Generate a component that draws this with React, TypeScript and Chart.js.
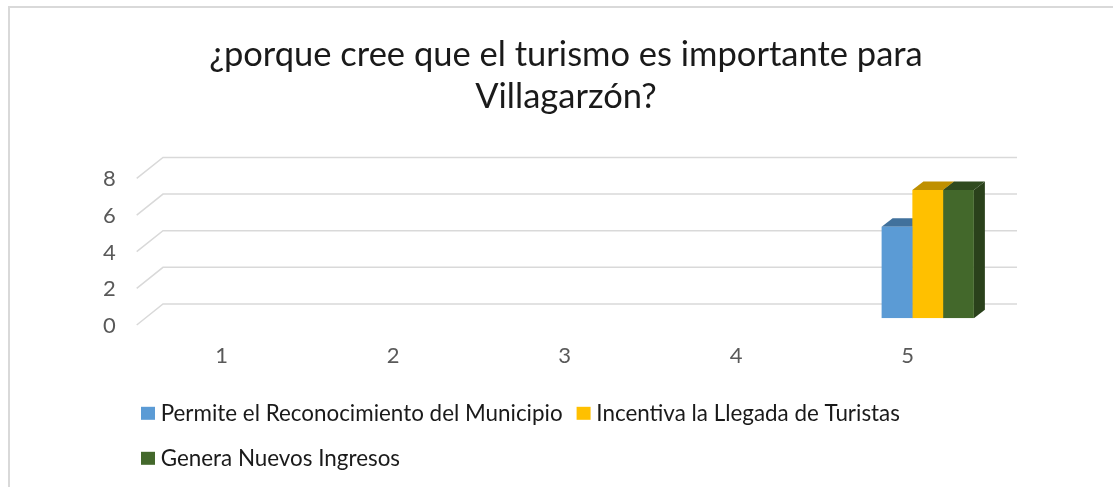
import React, { useEffect, useRef } from "react";
import { Chart, registerables } from "chart.js";

Chart.register(...registerables);

const TITLE_LINES = ["¿porque cree que el turismo es importante para", "Villagarzón?"];
const CATEGORIES = ["1", "2", "3", "4", "5"];
const SERIES_NAMES = [
  "Permite el Reconocimiento del Municipio",
  "Incentiva la Llegada de Turistas",
  "Genera Nuevos Ingresos",
];
const PERMITE: (number | null)[] = [null, null, null, null, 5];
const INCENTIVA: (number | null)[] = [null, null, null, null, 7];
const GENERA: (number | null)[] = [null, null, null, null, 7];
const Y_TICKS = [0, 2, 4, 6, 8];

const FRONT = ["#5B9BD5", "#FFC000", "#43682B"];
const TOP = ["#41719C", "#BF9000", "#2F4A1F"];
const SIDE = ["#3B6690", "#B38600", "#2A411B"];

const FONT = "Lato";

const threeD = {
  id: "threeD",
  beforeDatasetsDraw(chart: any) {
    const { ctx, chartArea: ca, scales } = chart;
    const ys = scales.y;
    ctx.save();
    ctx.strokeStyle = "#d9d9d9";
    ctx.lineWidth = 1.5;
    for (const t of Y_TICKS) {
      const py = ys.getPixelForValue(t);
      ctx.beginPath();
      ctx.moveTo(ca.left - 19.3, py + 6.7);
      ctx.lineTo(ca.left + 7, py - 14.3);
      ctx.lineTo(ca.right + 3.5, py - 14.3);
      ctx.stroke();
    }
    const DX = 11;
    const DY = -8.5;
    chart.data.datasets.forEach((_ds: any, i: number) => {
      const meta = chart.getDatasetMeta(i);
      meta.data.forEach((el: any) => {
        const { x, y: top, base, width } = el.getProps(["x", "y", "base", "width"], true);
        if (!isFinite(top) || !isFinite(base) || top === base) return;
        const l = x - width / 2;
        const r = x + width / 2;
        ctx.fillStyle = SIDE[i];
        ctx.beginPath();
        ctx.moveTo(r, top);
        ctx.lineTo(r + DX, top + DY);
        ctx.lineTo(r + DX, base + DY);
        ctx.lineTo(r, base);
        ctx.closePath();
        ctx.fill();
        ctx.fillStyle = TOP[i];
        ctx.beginPath();
        ctx.moveTo(l, top);
        ctx.lineTo(l + DX, top + DY);
        ctx.lineTo(r + DX, top + DY);
        ctx.lineTo(r, top);
        ctx.closePath();
        ctx.fill();
      });
    });
    ctx.restore();
  },
};

// Excel-style legend: small square, tight text gap, rows wrapped at the plot width
const excelLegend = {
  id: "excelLegend",
  afterDraw(chart: any) {
    const { ctx, chartArea: ca } = chart;
    const startX = 131;
    const maxRight = ca.right;
    const firstRowY = ca.bottom + 95;
    const rowGap = 45;
    const boxW = 14;
    const boxH = 13;
    const textGap = 5.7;
    const itemGap = 14;
    ctx.save();
    ctx.font = `22.4px ${FONT}`;
    ctx.textBaseline = "middle";
    ctx.textAlign = "left";
    let x = startX;
    let y = firstRowY;
    chart.data.datasets.forEach((ds: any) => {
      const w = ctx.measureText(ds.label).width;
      if (x > startX && x + boxW + textGap + w > maxRight) {
        x = startX;
        y += rowGap;
      }
      ctx.fillStyle = ds.backgroundColor;
      ctx.fillRect(x, y - boxH / 2, boxW, boxH);
      ctx.fillStyle = "#1a1a1a";
      ctx.fillText(ds.label, x + boxW + textGap, y);
      x += boxW + textGap + w + itemGap;
    });
    ctx.restore();
  },
};

export default function App() {
  const ref = useRef<HTMLCanvasElement | null>(null);
  useEffect(() => {
    if (!ref.current) return;
    const series = [PERMITE, INCENTIVA, GENERA];
    const chart = new Chart(ref.current, {
      type: "bar",
      data: {
        labels: CATEGORIES,
        datasets: series.map((d, i) => ({
          label: SERIES_NAMES[i],
          data: d,
          backgroundColor: FRONT[i],
          borderWidth: 0,
          categoryPercentage: 0.538,
          barPercentage: 1,
        })),
      },
      options: {
        animation: false,
        responsive: false,
        layout: { padding: { top: 0, left: 108.4, right: 110.5, bottom: 128.2 } },
        plugins: {
          title: {
            display: true,
            text: TITLE_LINES,
            color: "#1a1a1a",
            font: { family: FONT, size: 34.5, weight: "normal", lineHeight: "42px" },
            padding: { top: 27, bottom: 53.7 },
          },
          legend: { display: false },
          tooltip: { enabled: false },
        },
        scales: {
          x: {
            grid: { display: false, drawTicks: false },
            border: { display: false },
            ticks: {
              color: "#595959",
              font: { family: FONT, size: 22 },
              padding: 24.5,
              labelOffset: -20,
            },
            afterFit: (s: any) => {
              s.height = 60.5;
            },
          },
          y: {
            min: 0,
            max: 8,
            grid: { display: false, drawTicks: false },
            border: { display: false },
            ticks: {
              stepSize: 2,
              color: "#595959",
              font: { family: FONT, size: 22 },
              mirror: true,
              crossAlign: "near",
              padding: -53,
              labelOffset: 7.5,
            },
            afterFit: (s: any) => {
              s.width = 37.6;
            },
          },
        },
      } as any,
      plugins: [threeD, excelLegend],
    });
    return () => chart.destroy();
  }, []);

  return (
    <div style={{ position: "fixed", left: 0, top: 0, width: 1113, height: 487, overflow: "hidden", background: "#fff" }}>
      <div
        style={{
          position: "absolute",
          left: 8,
          top: 6,
          width: 2000,
          height: 2000,
          borderLeft: "2px solid #d9d9d9",
          borderTop: "2px solid #d9d9d9",
        }}
      />
      <canvas
        ref={ref}
        width={1114}
        height={500}
        style={{ position: "absolute", left: 10, top: 7, width: 1114, height: 500 }}
      />
    </div>
  );
}
